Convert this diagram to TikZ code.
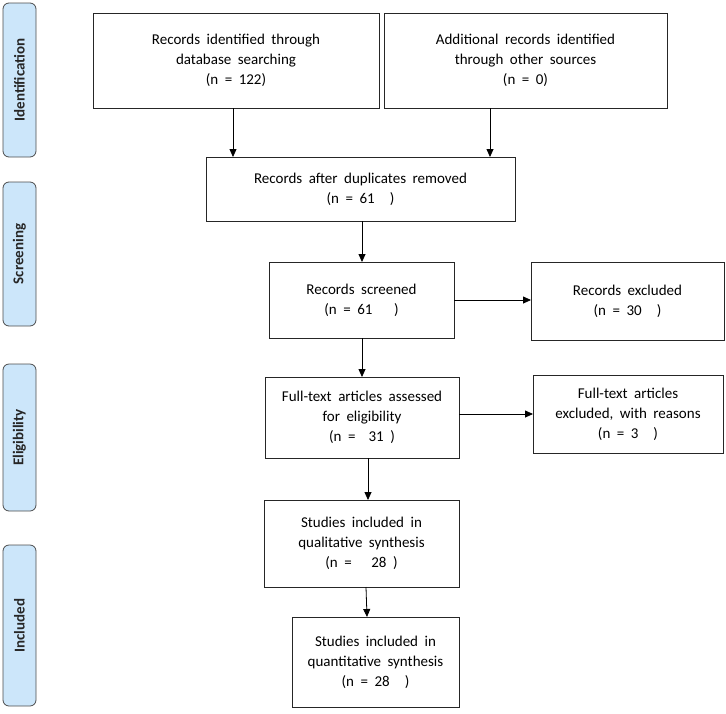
\documentclass[tikz,border=0pt]{standalone}
\usepackage{fontspec}
\setmainfont{Carlito}
\usetikzlibrary{arrows.meta}
\definecolor{sidefill}{RGB}{204,230,250}
\newcommand{\boxfont}{\fontsize{15}{20}\selectfont\spaceskip=6.5pt\relax}
\begin{document}
\begin{tikzpicture}[x=1pt,y=-1pt,
  box/.style={draw=black!85,line width=0.8pt},
  btext/.style={align=center,font=\boxfont},
  side/.style={draw=black!70,fill=sidefill,rounded corners=6pt,line width=0.8pt},
  lab/.style={rotate=90,font=\fontsize{15}{17}\selectfont\bfseries,text=black!85},
  arr/.style={-{Triangle[length=8pt,width=7pt]},line width=0.8pt}]
\useasboundingbox (0,0) rectangle (726,713);
\newcommand{\bx}[6]{\draw[box] (#2,#3) rectangle (#4,#5); \node[btext] (#1) at ({(#2+#4)/2},{(#3+#5)/2}) {#6};}
\foreach \a/\b/\t in {3/157/Identification,182/326/Screening,364/511/Eligibility,545/706/Included}{
  \draw[side] (3,\a) rectangle (36,\b);
  \node[lab] at (19.5,{(\a+\b)/2}) {\t};}
\bx{b1}{93}{13}{379}{108}{Records identified through\\database searching\\(n = 122)}
\bx{b2}{384}{13}{667}{108}{Additional records identified\\through other sources\\(n = 0)}
\bx{b3}{206}{157}{515}{221}{Records after duplicates removed\\(n = 61\quad)}
\bx{b4}{269}{262}{454}{338}{Records screened\\(n = 61\quad\ )}
\bx{b5}{531}{262}{724}{340}{Records excluded\\(n = 30\quad)}
\bx{b6}{265}{377}{459}{458}{Full-text articles assessed\\for eligibility\\(n = \ 31\ )}
\bx{b7}{533}{375}{723}{453}{Full-text articles\\excluded, with reasons\\(n = 3\quad)}
\bx{b8}{264}{500}{459}{587}{Studies included in\\qualitative synthesis\\(n = \ \ 28\ )}
\bx{b9}{292}{617}{459}{707}{Studies included in\\quantitative synthesis\\(n = 28\quad)}
\coordinate (p1) at (233,108); \coordinate (q1) at (233,157);
\coordinate (p2) at (490,108); \coordinate (q2) at (490,157);
\draw[arr] (p1) -- (q1);
\draw[arr] (p2) -- (q2);
\coordinate (p3) at (362,221); \coordinate (q3) at (362,262);
\draw[arr] (p3) -- (q3);
\coordinate (p4) at (454,300); \coordinate (q4) at (531,300);
\draw[arr] (p4) -- (q4);
\coordinate (p5) at (362,338); \coordinate (q5) at (362,377);
\draw[arr] (p5) -- (q5);
\coordinate (p6) at (459,414); \coordinate (q6) at (533,414);
\draw[arr] (p6) -- (q6);
\coordinate (p7) at (368,458); \coordinate (q7) at (368,500);
\draw[arr] (p7) -- (q7);
\coordinate (p8) at (366,587); \coordinate (q8) at (367,617);
\draw[arr] (p8) -- (q8);
\end{tikzpicture}
\end{document}
